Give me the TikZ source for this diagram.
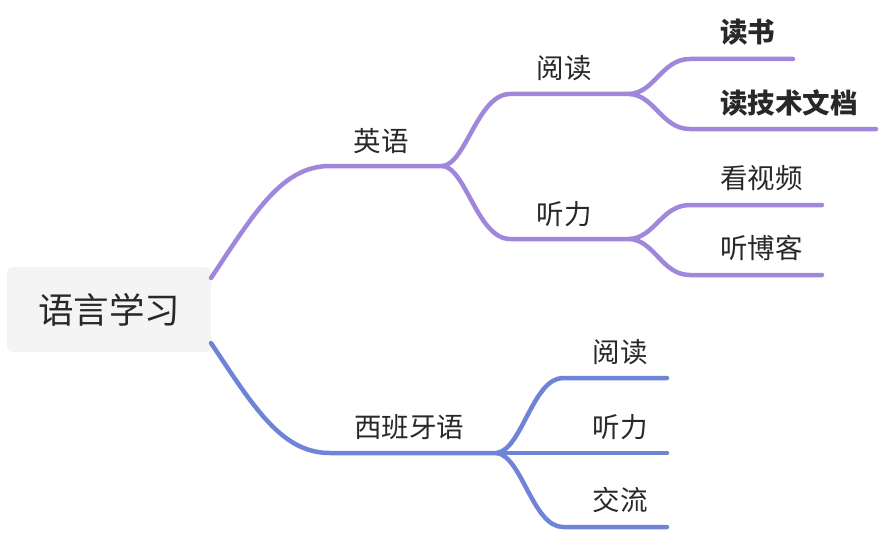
\documentclass[tikz,border=0pt]{standalone}
\usepackage{fontspec}
\setmainfont{Noto Sans CJK SC}
\definecolor{purp}{RGB}{161,135,219}
\definecolor{blu}{RGB}{110,132,214}
\definecolor{txt}{RGB}{40,40,40}
\definecolor{rootbg}{RGB}{244,244,244}
\begin{document}
\begin{tikzpicture}[x=1pt,y=-1pt,
  en/.style={line width=4.5pt, draw=purp, line cap=round},
  es/.style={line width=4.5pt, draw=blu, line cap=round},
  lab/.style={text=txt, font=\fontsize{27.5}{32}\selectfont, inner sep=0pt},
  blab/.style={lab, font=\fontsize{27.5}{32}\selectfont\bfseries},
]
\useasboundingbox (0,0) rectangle (882,532);
\node[fill=rootbg, rounded corners=6pt, minimum width=204pt, minimum height=85pt, inner sep=0pt,
      text=txt, font=\fontsize{35.5}{40}\selectfont] (root) at (109,309.5) {语言学习};

% coordinates
\coordinate (r1) at (211,278);
\coordinate (en0) at (330,166);
\coordinate (enS) at (443,166);
\coordinate (yd0) at (510,94);
\coordinate (ydS) at (630,94);
\coordinate (ds0) at (690,59);
\coordinate (ds1) at (793,59);
\coordinate (jd0) at (690,129);
\coordinate (jd1) at (876,129);
\coordinate (tl0) at (510,239);
\coordinate (tlS) at (630,239);
\coordinate (ks0) at (690,205);
\coordinate (ks1) at (822,205);
\coordinate (tb0) at (690,275);
\coordinate (tb1) at (822,275);
\coordinate (r2) at (211,343);
\coordinate (es0) at (330,453);
\coordinate (esS) at (497,453);
\coordinate (sy0) at (563,378);
\coordinate (sy1) at (667,378);
\coordinate (st1) at (667,453);
\coordinate (sj0) at (563,527);
\coordinate (sj1) at (667,527);

% English branch
\draw[en] (r1) .. controls (255,212) and (282,166) .. (en0) -- (enS);
\draw[en] (enS) .. controls (466,163) and (478,94) .. (yd0) -- (ydS);
\draw[en] (enS) .. controls (466,169) and (478,239) .. (tl0) -- (tlS);
\draw[en] (ydS) .. controls (655,92) and (662,59) .. (ds0) -- (ds1);
\draw[en] (ydS) .. controls (655,96) and (662,129) .. (jd0) -- (jd1);
\draw[en] (tlS) .. controls (655,237) and (662,205) .. (ks0) -- (ks1);
\draw[en] (tlS) .. controls (655,241) and (662,275) .. (tb0) -- (tb1);

% Spanish branch
\draw[es] (r2) .. controls (255,409) and (282,453) .. (es0) -- (esS);
\draw[es] (esS) .. controls (522,449) and (533,378) .. (sy0) -- (sy1);
\draw[es] (esS) -- (st1);
\draw[es] (esS) .. controls (522,457) and (533,527) .. (sj0) -- (sj1);

% labels
\node[lab] (en) at (381,141) {英语};
\node[lab] (yd) at (564,68) {阅读};
\node[lab] (tl) at (564,214) {听力};
\node[blab, anchor=west] (ds) at (720,32) {读书};
\node[blab, anchor=west] (jd) at (720,103) {读技术文档};
\node[lab, anchor=west] (ks) at (720,178) {看视频};
\node[lab, anchor=west] (tb) at (720,248) {听博客};
\node[lab] (es) at (409,427) {西班牙语};
\node[lab] (sy) at (620,352) {阅读};
\node[lab] (st) at (620,427) {听力};
\node[lab] (sj) at (620,500) {交流};
\end{tikzpicture}
\end{document}
